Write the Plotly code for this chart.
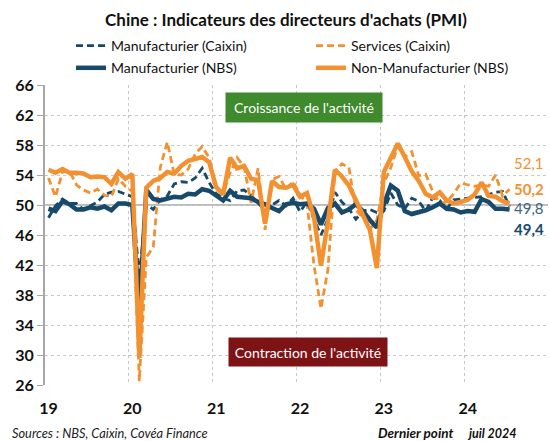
import plotly.graph_objects as go

# ---------------- data (monthly, Jan 2019 -> Jul 2024) ----------------
months = [f"{y}-{m:02d}" for y in range(2019, 2025) for m in range(1, 13)][:67]

caixin_manuf = [48.3, 49.9, 50.8, 50.2, 50.2, 49.4, 49.9, 50.4, 51.4, 51.7, 51.8, 51.5,
                51.1, 40.3, 50.1, 49.4, 50.7, 51.2, 52.8, 53.1, 53.0, 53.6, 54.9, 53.0,
                51.5, 50.9, 50.6, 51.9, 52.0, 51.3, 50.3, 49.2, 50.0, 50.6, 49.9, 50.9,
                49.1, 50.4, 48.1, 46.0, 48.1, 51.7, 50.4, 49.5, 48.1, 49.2, 49.4, 49.0,
                49.2, 51.6, 50.0, 49.5, 50.9, 50.5, 49.2, 51.0, 50.6, 49.5, 50.7, 50.8,
                50.8, 50.9, 51.1, 51.4, 51.7, 51.8, 49.8]

caixin_services = [53.6, 51.1, 54.4, 54.5, 52.7, 52.0, 51.6, 52.1, 51.3, 51.1, 53.5, 52.5,
                   51.8, 26.5, 43.0, 44.4, 55.0, 58.4, 54.1, 54.0, 54.8, 56.8, 57.8, 56.3,
                   52.0, 51.5, 54.3, 56.3, 55.1, 50.3, 54.9, 46.7, 53.4, 53.8, 52.1, 53.1,
                   51.4, 50.2, 42.0, 36.2, 41.4, 54.5, 55.5, 55.0, 49.3, 48.4, 46.7, 48.0,
                   52.9, 55.0, 57.8, 56.4, 57.1, 53.9, 54.1, 51.8, 50.2, 50.4, 51.5, 52.9,
                   52.7, 52.5, 52.7, 52.5, 54.0, 51.2, 52.1]

nbs_manuf = [49.5, 49.2, 50.5, 50.1, 49.4, 49.4, 49.7, 49.5, 49.8, 49.3, 50.2, 50.2,
             50.0, 35.7, 52.0, 50.8, 50.6, 50.9, 51.1, 51.0, 51.5, 51.4, 52.1, 51.9,
             51.3, 50.6, 51.9, 51.1, 51.0, 50.9, 50.4, 50.1, 49.6, 49.2, 50.1, 50.3,
             50.1, 50.2, 49.5, 47.4, 49.6, 50.2, 49.0, 49.4, 50.1, 49.2, 48.0, 47.0,
             50.1, 52.6, 51.9, 49.2, 48.8, 49.0, 49.3, 49.7, 50.2, 49.5, 49.4, 49.0,
             49.2, 49.1, 50.8, 50.4, 49.5, 49.5, 49.4]

nbs_nonmanuf = [54.7, 54.3, 54.8, 54.3, 54.3, 54.2, 53.7, 53.8, 53.7, 52.8, 54.4, 53.5,
                54.1, 29.6, 52.3, 53.2, 53.6, 54.4, 54.2, 55.2, 55.9, 56.2, 56.4, 55.7,
                52.4, 51.4, 56.3, 54.9, 55.2, 53.5, 53.3, 47.5, 53.2, 52.4, 52.3, 52.7,
                51.1, 51.6, 48.4, 41.9, 47.8, 54.7, 53.8, 52.6, 50.6, 48.7, 46.7, 41.6,
                54.4, 56.3, 58.2, 56.4, 54.5, 53.2, 51.5, 51.0, 51.7, 50.6, 50.2, 50.4,
                50.7, 51.4, 53.0, 51.2, 51.1, 50.5, 50.2]

year_ticks = [0, 12, 24, 36, 48, 60]
year_labels = ["19", "20", "21", "22", "23", "24"]

# ---------------- styling ----------------
BLUE = "#17496A"
ORANGE = "#F39131"
FONT = "Lato, Carlito, sans-serif"
x = list(range(len(months)))

fig = go.Figure()
fig.add_trace(go.Scatter(x=x, y=caixin_manuf, mode="lines", name="Manufacturier (Caixin)",
                         line=dict(color=BLUE, width=2.8, dash="7px,4px"),
                         legend="legend", legendgroup="a"))
fig.add_trace(go.Scatter(x=x, y=caixin_services, mode="lines", name="Services (Caixin)",
                         line=dict(color=ORANGE, width=2.8, dash="7px,4px"),
                         legend="legend2", legendgroup="b"))
fig.add_trace(go.Scatter(x=x, y=nbs_manuf, mode="lines", name="Manufacturier (NBS)",
                         line=dict(color=BLUE, width=4.5),
                         legend="legend", legendgroup="c"))
fig.add_trace(go.Scatter(x=x, y=nbs_nonmanuf, mode="lines", name="Non-Manufacturier (NBS)",
                         line=dict(color=ORANGE, width=4.5),
                         legend="legend2", legendgroup="d"))

def fmt(v):
    return f"{v:.1f}".replace(".", ",")

last = len(months) - 1
end_labels = [
    (caixin_services[-1], 55.6, ORANGE, "normal"),
    (nbs_nonmanuf[-1], 52.1, ORANGE, "bold"),
    (caixin_manuf[-1], 49.6, "#3D6680", "normal"),
    (nbs_manuf[-1], 46.8, BLUE, "bold"),
]
annotations = []
for val, ypos, col, w in end_labels:
    annotations.append(dict(x=last + 0.3, y=ypos, xref="x", yref="y", text=fmt(val),
                            showarrow=False, xanchor="left", yanchor="middle",
                            font=dict(family=FONT, size=15, color=col, weight=w)))

annotations.append(dict(x=36.6, y=63.0, xref="x", yref="y", text="Croissance de l'activité",
                        showarrow=False, bgcolor="#3E8A2D", width=152, height=25, borderpad=2,
                        font=dict(family=FONT, size=14, color="white")))
annotations.append(dict(x=37.2, y=30.4, xref="x", yref="y", text="Contraction de l'activité",
                        showarrow=False, bgcolor="#7E1316", width=154, height=24, borderpad=2,
                        font=dict(family=FONT, size=14, color="white")))

annotations.append(dict(x=-0.07, y=-0.16, xref="paper", yref="paper",
                        text="<i>Sources : NBS, Caixin, Covéa Finance</i>", showarrow=False,
                        xanchor="left", yanchor="middle",
                        font=dict(family=FONT, size=12.8, color="#222")))
annotations.append(dict(x=(376 - 45) / 503, y=-0.16, xref="paper", yref="paper",
                        text="<b><i>Dernier point</i></b>", showarrow=False,
                        xanchor="left", yanchor="middle",
                        font=dict(family=FONT, size=13.5, color="#111")))
annotations.append(dict(x=0.835, y=-0.16, xref="paper", yref="paper",
                        text="<b><i>juil 2024</i></b>", showarrow=False,
                        xanchor="left", yanchor="middle",
                        font=dict(family=FONT, size=12.5, color="#111")))

legend_common = dict(orientation="v", yanchor="middle", xanchor="left",
                     xref="container", yref="container", y=1 - 57 / 441,
                     font=dict(family=FONT, size=14, color="#111"),
                     bgcolor="rgba(0,0,0,0)", itemwidth=30, tracegroupgap=1)

fig.update_layout(
    width=550, height=441,
    margin=dict(l=45, r=2, t=85, b=56, autoexpand=False),
    paper_bgcolor="white", plot_bgcolor="white",
    font=dict(family=FONT, color="#111"),
    title=dict(text="<b>Chine : Indicateurs des directeurs d'achats (PMI)</b>",
               x=0.52, xref="container", xanchor="center",
               y=1 - 20 / 441, yref="container", yanchor="middle",
               font=dict(family=FONT, size=17, color="#111")),
    legend=dict(x=71 / 550, **legend_common),
    legend2=dict(x=0.5655, **legend_common),
    annotations=annotations,
    shapes=[dict(type="line", xref="paper", yref="y", x0=0, x1=1, y0=50, y1=50,
                 line=dict(color="#A6A6A6", width=1.5), layer="below")],
)

fig.update_xaxes(range=[-0.5, 71.5], tickmode="array", tickvals=year_ticks, ticktext=year_labels,
                 showgrid=False, zeroline=False, showline=False, ticks="",
                 ticklabelstandoff=12,
                 tickfont=dict(family=FONT, size=16, color="#111", weight="bold"),
                 minor=dict(tickmode="array", tickvals=[11.5, 23.5, 35.5, 47.5, 59.5, 71.5],
                            showgrid=True, gridcolor="#C8C8C8", griddash="dot", gridwidth=1,
                            ticks=""))
fig.update_yaxes(range=[26, 66], tick0=26, dtick=4, showgrid=True, gridcolor="#C8C8C8",
                 griddash="dot", gridwidth=1, zeroline=False, showline=True,
                 linecolor="#A6A6A6", linewidth=2, ticks="outside", ticklen=6,
                 tickcolor="#A6A6A6", tickwidth=1,
                 tickfont=dict(family=FONT, size=16, color="#111", weight="bold"))

fig.write_html("out.html", config={"displayModeBar": False},
               post_script="document.body.style.margin='0px';")
